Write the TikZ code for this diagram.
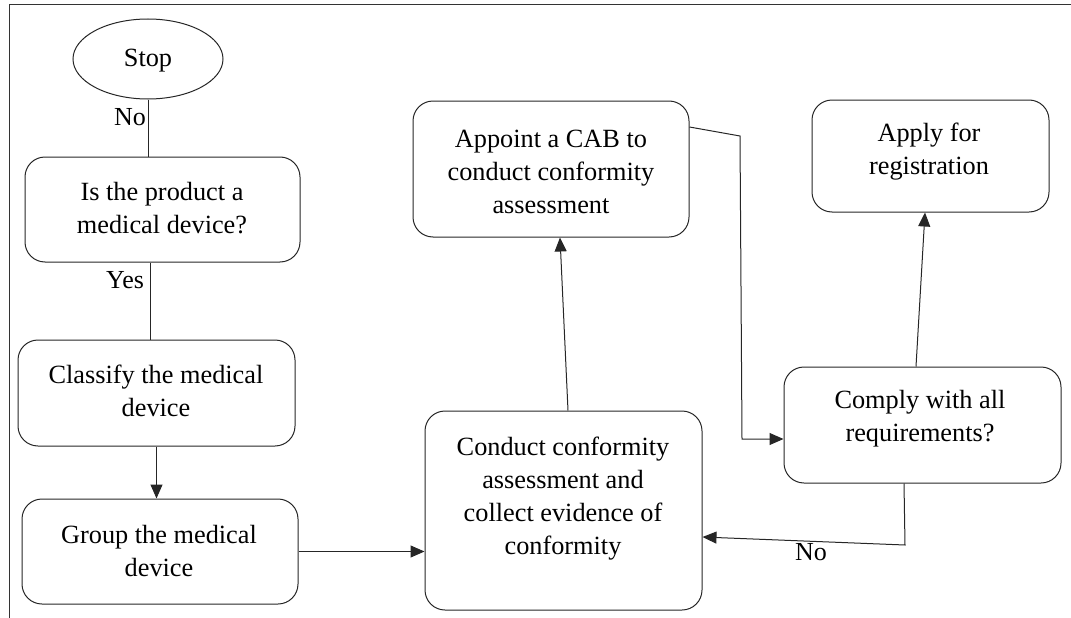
\documentclass[tikz,border=0pt]{standalone}
\usepackage{fontspec}
\setmainfont{Liberation Serif}
\usetikzlibrary{arrows.meta,shapes.geometric}
\begin{document}
\begin{tikzpicture}[x=1pt,y=-1pt,
  box/.style={draw=black!85,line width=1pt,rounded corners=20pt,inner sep=0pt},
  txt/.style={align=center,inner sep=0pt,font=\rmfamily\fontsize{26.3}{33}\selectfont},
  lbl/.style={inner sep=0pt,font=\rmfamily\fontsize{26}{30}\selectfont},
  conn/.style={draw=black!85,line width=1pt},
  arr/.style={conn,-{Triangle[length=14pt,width=12pt]}}]
\useasboundingbox (0,0) rectangle (1071,618);
\draw[black!80,line width=1pt] (9,618) -- (9,5) -- (1071,5);
% shapes
\node[draw=black!85,line width=1pt,ellipse,minimum width=150pt,minimum height=80pt,inner sep=0pt] (stop) at (148,59) {};
\node[box,minimum width=275pt,minimum height=105pt] (b1) at (162.5,209.5) {};
\node[box,minimum width=277pt,minimum height=106pt] (b2) at (156.5,393) {};
\node[box,minimum width=276pt,minimum height=105pt] (b3) at (160,551.5) {};
\node[box,minimum width=277pt,minimum height=199pt] (b4) at (563.5,510.5) {};
\node[box,minimum width=276pt,minimum height=136pt] (b5) at (551,169) {};
\node[box,minimum width=277pt,minimum height=116pt] (b6) at (922.5,425) {};
\node[box,minimum width=237pt,minimum height=112pt] (b7) at (930.5,156) {};
% texts
\node[txt] (t0) at (148,61) {Stop};
\node[txt] (t1) at (162,208) {Is the product a\\medical device?};
\node[txt] (t2) at (156,390.5) {Classify the medical\\device};
\node[txt] (t3) at (159,550.5) {Group the medical\\device};
\node[txt] (t4) at (563,498.5) {Conduct conformity\\assessment and\\collect evidence of\\conformity};
\node[txt] (t5) at (551,171.5) {Appoint a CAB to\\conduct conformity\\assessment};
\node[txt] (t6) at (920,419) {Comply with all\\requirements?};
\node[txt] (t7) at (929,151.5) {Apply for\\registration};
% labels
\node[lbl] (lno1) at (130,117) {No};
\node[lbl] (lyes) at (125,280) {Yes};
\node[lbl] (lno2) at (811,552) {No};
% coordinates
\coordinate (c1) at (740,136);
\coordinate (c2) at (742,439);
\coordinate (c3) at (905,545);
% connectors
\draw[conn] (stop.south) -- (stop.south |- b1.north);
\draw[conn] ([xshift=-12.5pt]b1.south) -- ([xshift=-12.5pt]b1.south |- b2.north);
\draw[arr] (b2.south) -- (b2.south |- b3.north);
\draw[arr] (b3.east) -- (b3.east -| b4.west);
\draw[arr] ([xshift=4.5pt]b4.north) -- ([xshift=9pt]b5.south);
\draw[arr] ([yshift=42pt]b5.east) -- (c1) -- (c2) -- (c2 -| b6.west);
\draw[arr] ([xshift=-18.5pt]b6.south) -- (c3) -- ([yshift=-26.5pt]b4.east);
\draw[arr] ([xshift=-6.5pt]b6.north) -- ([xshift=-5.5pt]b7.south);
\end{tikzpicture}
\end{document}
